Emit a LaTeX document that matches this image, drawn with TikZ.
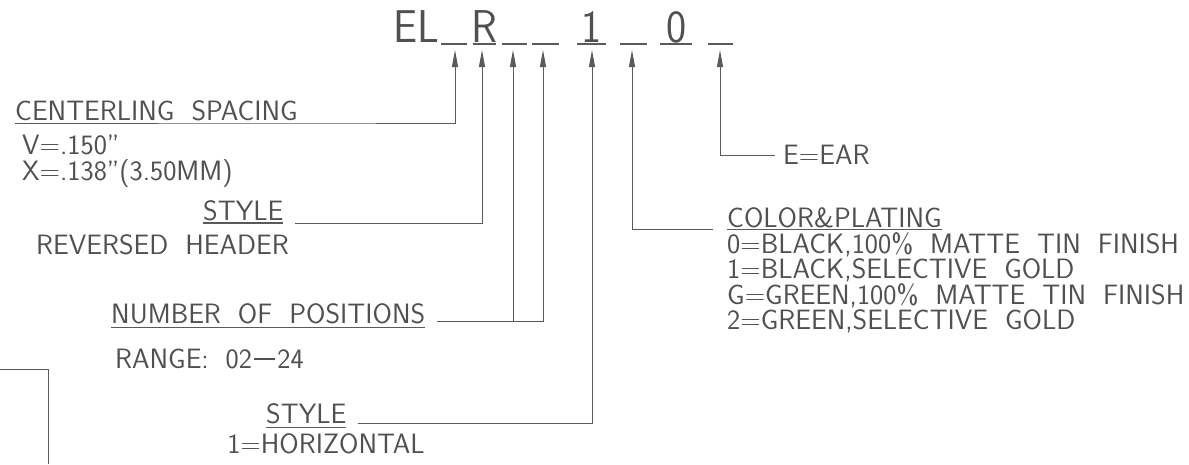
\documentclass[tikz,border=0pt]{standalone}
\usetikzlibrary{arrows.meta,calc}
\definecolor{ink}{HTML}{505050}
\definecolor{linec}{HTML}{5A5A5A}
\begin{document}
\begin{tikzpicture}[x=1pt,y=-1pt,
  lbl/.style={font={\sffamily\fontsize{28}{25.5}\selectfont\spaceskip=17pt\relax}, text=ink, inner xsep=0pt, inner ysep=2pt},
  ttl/.style={font=\sffamily\fontsize{46}{46}\selectfont, text=ink, inner sep=0pt},
  conn/.style={draw=linec, line width=1pt},
  arr/.style={conn, -{Triangle[length=17pt,width=6pt]}},
  uline/.style={draw=linec, line width=1.2pt}]
\useasboundingbox (0,0) rectangle (1189,464);
% title
\node[ttl, anchor=base west] (el) at (393,42) {\scalebox{0.93}[1]{EL}};
\node[ttl, anchor=base] (r) at (484,42) {\scalebox{0.93}[1]{R}};
\node[ttl, anchor=base] (one) at (592,42) {\scalebox{0.93}[1]{1}};
\node[ttl, anchor=base] (zero) at (677,42) {\scalebox{0.93}[1]{0}};
\foreach \a/\b in {441/467,473/496,502/527,532/559,577/606,620/647,660/692,708/733}
  \draw[uline] (\a,44) -- (\b,44);
% arrow tips
\coordinate (t1) at (455,50);
\coordinate (t2) at (482,50);
\coordinate (t3) at (513,50);
\coordinate (t4) at (543,50);
\coordinate (t5) at (592,50);
\coordinate (t6) at (632,50);
\coordinate (t7) at (720,50);
% centerline spacing
\node[lbl, anchor=south west] (cs) at (15,123) {CENTERLING SPACING};
\draw[arr] (cs.south west) -- (cs.south east) -| (t1);
\node[lbl, anchor=north west, align=left, inner ysep=0pt] (vx) at (22,135) {V=.150''\\X=.138''(3.50MM)};
% style (reversed)
\node[lbl, anchor=south west] (st1) at (203,223) {STYLE};
\draw[uline] (st1.south west) -- (st1.south east);
\coordinate (st1j) at ($(st1.south east)+(12,0)$);
\draw[arr] (st1j) -| (t2);
\node[lbl, anchor=base west] (rh) at (36,254) {REVERSED HEADER};
% number of positions
\node[lbl, anchor=base west, inner ysep=4pt] (nop) at (111,323) {NUMBER OF POSITIONS};
\draw[uline] (nop.south west) -- (nop.south east);
\coordinate (nopj) at ($(nop.base east)+(12,-2)$);
\draw[arr] (nopj) -| (t4);
\draw[arr] (t3 |- nopj) -- (t3);
\node[lbl, anchor=base west] (rg) at (115,368) {RANGE:\hspace{0.6em}02\hspace{0.08em}\rule[0.3em]{0.75em}{0.05em}\hspace{0.08em}24};
% left box
\coordinate (bx1) at (0,369);
\coordinate (bx2) at (48,464);
\draw[conn] (bx1) -| (bx2);
% style (horizontal)
\node[lbl, anchor=base west, inner ysep=4pt] (st2) at (266,423) {STYLE};
\draw[uline] (st2.south west) -- (st2.south east);
\coordinate (st2j) at ($(st2.base east)+(12,0)$);
\draw[arr] (st2j) -| (t5);
\node[lbl, anchor=base] (hz) at (326,453) {1=HORIZONTAL};
% color & plating
\node[lbl, anchor=base west] (cp) at (727,227) {COLOR\&PLATING};
\draw[uline] (cp.south west) -- (cp.south east);
\coordinate (cpj) at ($(cp.south west)+(-14,0)$);
\draw[arr] (cpj) -| (t6);
\node[lbl, anchor=north west, align=left, inner ysep=0pt] (opts) at (727,232)
  {0=BLACK,100\% MATTE TIN FINISH\\1=BLACK,SELECTIVE GOLD\\G=GREEN,100\% MATTE TIN FINISH\\2=GREEN,SELECTIVE GOLD};
% ear
\node[lbl, anchor=west, inner xsep=8pt] (ear) at (775,155) {E=EAR};
\draw[arr] (ear.west) -| (t7);
\end{tikzpicture}
\end{document}
